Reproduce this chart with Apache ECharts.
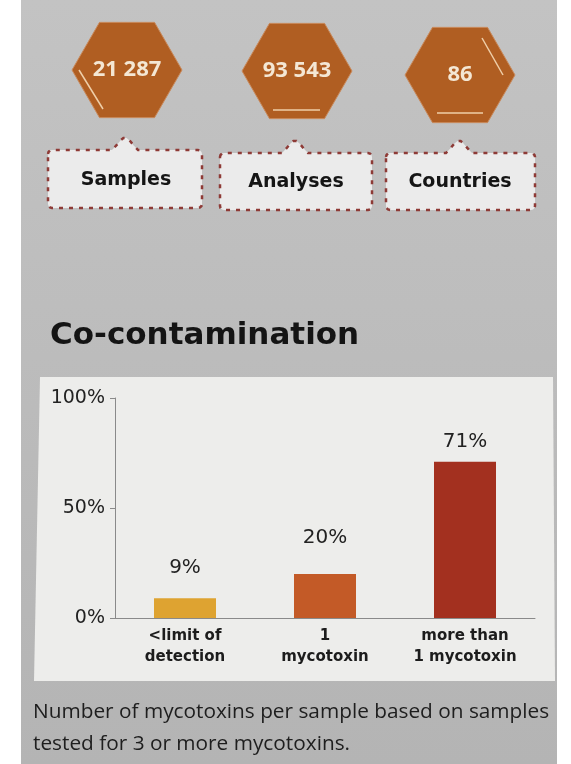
<!DOCTYPE html>
<html>
<head>
<meta charset="utf-8">
<style>
  html, body { margin: 0; padding: 0; background: #ffffff; }
  #chart { width: 571px; height: 764px; }
</style>
<script src="https://cdn.jsdelivr.net/npm/echarts/dist/echarts.min.js"></script>
</head>
<body>
<div id="chart"></div>
<script>
// Headline figures shown in the hexagon badges and their captions
const statValues = ['21 287', '93 543', '86'];
const statNames = ['Samples', 'Analyses', 'Countries'];

// Co-contamination: share of samples by number of mycotoxins found
const categories = ['<limit of\ndetection', '1\nmycotoxin', 'more than\n1 mycotoxin'];
const shares = [9, 20, 71];
const barColors = ['#dea331', '#c35a27', '#a3301f'];

// Y axis ticks (percent)
const yTicks = [0, 50, 100];

const titleText = 'Co-contamination';
const captionText = 'Number of mycotoxins per sample based on samples\ntested for 3 or more mycotoxins.';

// ---- layout for the header badges ----
const badgeCenters = [[127, 70], [297, 71], [460, 75]];
const badgeRadius = 55;
const boxes = [
  { x0: 48, y0: 150, x1: 202, y1: 208, peak: 125 },
  { x0: 220, y0: 153, x1: 372, y1: 210, peak: 295 },
  { x0: 386, y0: 153, x1: 535, y1: 210, peak: 459 }
];
// gap between each bar top and its value label
const labelGap = [20, 26, 10];

function hexagon(cx, cy, r) {
  const pts = [];
  for (let i = 0; i < 6; i++) {
    const a = Math.PI / 3 * i;
    pts.push([cx + r * Math.cos(a), cy + r * Math.sin(a)]);
  }
  return pts;
}

// Rounded speech-box outline with a small bump on top
function calloutBox(b) {
  const r = 4, hw = 13, h = 12;
  const pts = [];
  const corner = (cx, cy, a0) => {
    for (let k = 0; k <= 3; k++) {
      const a = a0 + (Math.PI / 2) * (k / 3);
      pts.push([cx + r * Math.cos(a), cy + r * Math.sin(a)]);
    }
  };
  corner(b.x0 + r, b.y0 + r, Math.PI);
  pts.push([b.peak - hw, b.y0]);
  pts.push([b.peak - hw * 0.65, b.y0 - h * 0.4]);
  pts.push([b.peak - hw * 0.35, b.y0 - h * 0.8]);
  pts.push([b.peak - hw * 0.12, b.y0 - h]);
  pts.push([b.peak + hw * 0.12, b.y0 - h]);
  pts.push([b.peak + hw * 0.35, b.y0 - h * 0.8]);
  pts.push([b.peak + hw * 0.65, b.y0 - h * 0.4]);
  pts.push([b.peak + hw, b.y0]);
  corner(b.x1 - r, b.y0 + r, -Math.PI / 2);
  corner(b.x1 - r, b.y1 - r, 0);
  corner(b.x0 + r, b.y1 - r, Math.PI / 2);
  return pts;
}

const graphics = [];

// page background
graphics.push({
  type: 'rect', z: -20, silent: true,
  shape: { x: 21, y: 0, width: 536, height: 764 },
  style: {
    fill: new echarts.graphic.LinearGradient(0, 0, 0, 1, [
      { offset: 0, color: '#c3c3c3' },
      { offset: 1, color: '#b4b4b4' }
    ])
  }
});

// chart panel
graphics.push({
  type: 'polygon', z: -10, silent: true,
  shape: { points: [[40, 377], [553, 377], [555, 681], [34, 681]] },
  style: { fill: '#ededeb' }
});

// hexagon badges with their figures
statValues.forEach((v, i) => {
  const [cx, cy] = badgeCenters[i];
  graphics.push({
    type: 'polygon', z: -5, silent: true,
    shape: { points: hexagon(cx, cy, badgeRadius) },
    style: { fill: '#b05e22', stroke: '#c98a5c', lineWidth: 1 }
  });
  graphics.push({
    type: 'text', z: 5, silent: true,
    x: cx, y: cy,
    style: {
      text: v, fill: '#f4e7d4',
      font: 'bold 22px "Open Sans", sans-serif',
      align: 'center', verticalAlign: 'middle'
    }
  });
});

// decorative highlight strokes inside the badges
const strokes = [
  [79, 70, 103, 109],
  [273, 110, 320, 110],
  [482, 38, 503, 75],
  [437, 113, 483, 113]
];
strokes.forEach(s => {
  graphics.push({
    type: 'line', z: 5, silent: true,
    shape: { x1: s[0], y1: s[1], x2: s[2], y2: s[3] },
    style: { stroke: '#efcfa9', lineWidth: 1.5 }
  });
});

// caption boxes
statNames.forEach((name, i) => {
  const b = boxes[i];
  graphics.push({
    type: 'polygon', z: -5, silent: true,
    shape: { points: calloutBox(b) },
    style: { fill: '#ebebeb', stroke: '#8e3a36', lineWidth: 2.5, lineDash: [4, 6] }
  });
  graphics.push({
    type: 'text', z: 5, silent: true,
    x: b.peak + 1, y: (b.y0 + b.y1) / 2 + 1,
    style: {
      text: name, fill: '#151515',
      font: 'bold 19px "DejaVu Sans", sans-serif',
      align: 'center', verticalAlign: 'middle'
    }
  });
});

// footnote
graphics.push({
  type: 'text', z: 5, silent: true,
  x: 33, y: 696,
  style: {
    text: captionText, fill: '#1e1e1e',
    font: '20.8px "Open Sans", sans-serif',
    lineHeight: 32, align: 'left', verticalAlign: 'top'
  }
});

const chart = echarts.init(document.getElementById('chart'), null, { renderer: 'canvas' });
chart.setOption({
  animation: false,
  backgroundColor: '#ffffff',
  title: {
    text: titleText,
    left: 45, top: 315,
    textStyle: {
      fontFamily: '"DejaVu Sans", sans-serif',
      fontWeight: 'bold', fontSize: 31, color: '#141414'
    }
  },
  graphic: { elements: graphics },
  grid: {
    left: 115, right: 36, top: 398, bottom: 146,
    containLabel: false, outerBoundsMode: 'none'
  },
  xAxis: {
    type: 'category',
    data: categories,
    axisLine: { lineStyle: { color: '#8a8a8a', width: 1 } },
    axisTick: { show: false },
    axisLabel: {
      interval: 0, margin: 8,
      fontFamily: '"DejaVu Sans", sans-serif',
      fontWeight: 'bold', fontSize: 15, lineHeight: 21, color: '#1c1c1c'
    }
  },
  yAxis: {
    type: 'value',
    min: yTicks[0], max: yTicks[yTicks.length - 1], interval: yTicks[1] - yTicks[0],
    axisLine: { show: true, lineStyle: { color: '#8a8a8a', width: 1 } },
    axisTick: { show: true, length: 5, lineStyle: { color: '#8a8a8a' } },
    splitLine: { show: false },
    axisLabel: {
      margin: 10,
      formatter: '{value}%',
      fontFamily: '"DejaVu Sans", sans-serif',
      fontSize: 19, color: '#222222'
    }
  },
  series: [{
    type: 'bar',
    barWidth: 62,
    data: shares.map((v, i) => ({
      value: v,
      itemStyle: { color: barColors[i] },
      label: { distance: labelGap[i] }
    })),
    label: {
      show: true, position: 'top',
      formatter: '{c}%',
      fontFamily: '"DejaVu Sans", sans-serif',
      fontSize: 20, color: '#222222'
    }
  }]
});
</script>
</body>
</html>
